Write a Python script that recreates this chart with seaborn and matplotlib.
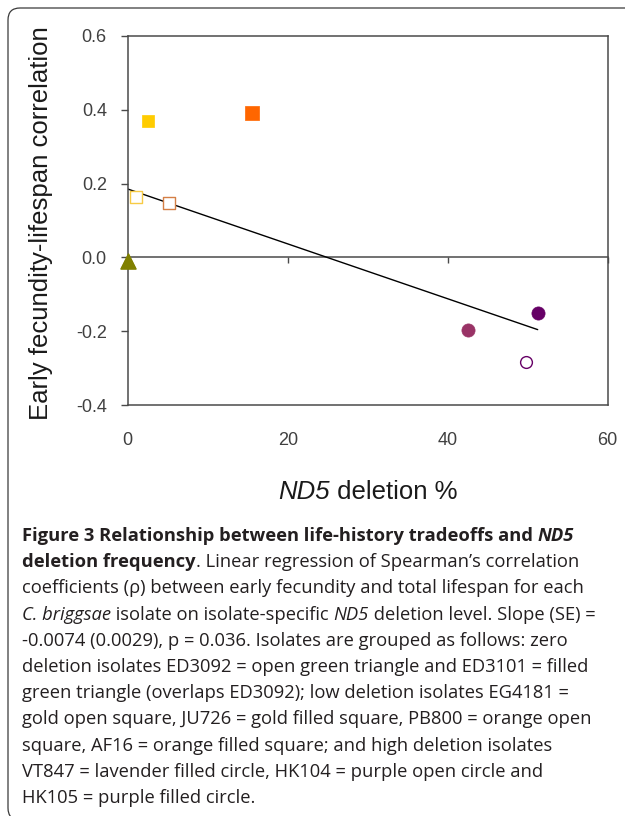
import matplotlib
matplotlib.use("Agg")
import matplotlib.pyplot as plt
import seaborn as sns
import numpy as np
import pandas as pd
from matplotlib.patches import FancyBboxPatch
from matplotlib.transforms import IdentityTransform

# ---------------- data ----------------
isolates = ["ED3092", "ED3101", "EG4181", "JU726", "PB800", "AF16", "VT847", "HK104", "HK105"]
deletion_pct = [0.0, 0.0, 1.0, 2.5, 5.2, 15.5, 42.5, 49.8, 51.25]
spearman_rho = [-0.01, -0.01, 0.165, 0.37, 0.148, 0.39, -0.197, -0.283, -0.152]
x_ticks = [0, 20, 40, 60]
x_tick_labels = ["0", "20", "40", "60"]
y_ticks = [-0.4, -0.2, 0.0, 0.2, 0.4, 0.6]
y_tick_labels = ["-0.4", "-0.2", "0.0", "0.2", "0.4", "0.6"]
x_label_runs = [("ND5", "italic"), (" deletion %", "normal")]
y_label = "Early fecundity-lifespan correlation"

# ---------------- styles ----------------
marker_shapes = ["^", "^", "s", "s", "s", "s", "o", "o", "o"]
marker_colors = ["#808000", "#808000", "#F7CB45", "#FFCC00", "#D47F45", "#FF6600",
                 "#993366", "#660066", "#660066"]
marker_filled = [False, True, False, True, False, True, True, False, True]
marker_sizes = [117, 117, 80, 83, 78, 88, 90, 72, 90]

sns.set_style("white")
plt.rcParams["font.family"] = ["Liberation Sans", "DejaVu Sans"]

fig = plt.figure(figsize=(6.25, 8.16), dpi=100)
fig.patch.set_facecolor("white")
ax = fig.add_axes([127.7 / 625, 1 - 405 / 816, 480 / 625, 369 / 816])
renderer = fig.canvas.get_renderer()

df = pd.DataFrame({"isolate": isolates, "deletion": deletion_pct, "rho": spearman_rho})

# regression line
sns.regplot(data=df, x="deletion", y="rho", scatter=False, ci=None, truncate=True,
            color="black", line_kws=dict(lw=1.0, zorder=2), ax=ax)

# points
for i, row in df.iterrows():
    col = marker_colors[i]
    if marker_filled[i]:
        sns.scatterplot(x=[row["deletion"]], y=[row["rho"]], ax=ax, marker=marker_shapes[i],
                        s=marker_sizes[i], color=col, edgecolor=col, linewidth=0.5,
                        zorder=4, legend=False, clip_on=False)
    else:
        sns.scatterplot(x=[row["deletion"]], y=[row["rho"]], ax=ax, marker=marker_shapes[i],
                        s=marker_sizes[i], color="white", edgecolor=col, linewidth=1.0,
                        zorder=3, legend=False, clip_on=False)

ax.set_xlim(x_ticks[0], x_ticks[-1])
ax.set_ylim(y_ticks[0], y_ticks[-1])
ax.set_xlabel("")

spine_col = "#4a4a4a"
for sp in ax.spines.values():
    sp.set_visible(True)
    sp.set_color(spine_col)
    sp.set_linewidth(1.1)

ax.set_yticks(y_ticks, labels=y_tick_labels)
ax.set_xticks(x_ticks, labels=x_tick_labels)
ax.tick_params(axis="y", left=True, direction="out", length=5, width=1.0, color=spine_col,
               pad=10, labelsize=13, labelcolor="#404040")
ax.tick_params(axis="x", bottom=True, length=0, pad=19.5, labelsize=13, labelcolor="#404040")
ax.grid(False)

# zero line axis with ticks
ylo, yhi = ax.get_ylim()
sec = ax.secondary_xaxis((0 - ylo) / (yhi - ylo))
sec.set_xticks(x_ticks, labels=["" for _ in x_ticks])
sec.tick_params(axis="x", bottom=True, direction="out", length=4, width=1.0, color=spine_col)
sec.spines["bottom"].set_color(spine_col)
sec.spines["bottom"].set_linewidth(1.1)

ax.set_ylabel(y_label, fontsize=18.5, color="#1a1a1a", va="center")
ax.yaxis.set_label_coords((41 - 127.7) / 480, (405 - 223) / 369)


def measure(s, size, family, **kw):
    t1 = fig.text(0, 0, "|" + s + "|", family=family, fontsize=size, **kw)
    t2 = fig.text(0, 0, "||", family=family, fontsize=size, **kw)
    w = t1.get_window_extent(renderer).width - t2.get_window_extent(renderer).width
    t1.remove()
    t2.remove()
    return w


# x label drawn as runs (italic ND5)
xl_family = ["Liberation Sans", "DejaVu Sans"]
xl_size = 18.5
widths = [measure(s, xl_size, xl_family, fontstyle=st) for s, st in x_label_runs]
xc = 127.7 + 240
x = xc - sum(widths) / 2
for (s, st), w in zip(x_label_runs, widths):
    fig.text(x / 625, 1 - 499 / 816, s, family=xl_family, fontsize=xl_size, fontstyle=st,
             color="#1a1a1a", va="baseline", ha="left")
    x += w

# frame
frame = FancyBboxPatch((8, -4), 720, 812, boxstyle="round,pad=0,rounding_size=12",
                       transform=IdentityTransform(), fill=False, ec="#3a3a3a", lw=0.9)
fig.add_artist(frame)

# ---------------- caption ----------------
caption_lines = [
    [("Figure 3 Relationship between life-history tradeoffs and ", "b"), ("ND5", "bi")],
    [("deletion frequency", "b"), (". Linear regression of Spearman\u2019s correlation", "r")],
    [("coefficients (\u03c1) between early fecundity and total lifespan for each", "r")],
    [("C. briggsae", "i"), (" isolate on isolate-specific ", "r"), ("ND5", "i"),
     (" deletion level. Slope (SE) =", "r")],
    [("-0.0074 (0.0029), p = 0.036. Isolates are grouped as follows: zero", "r")],
    [("deletion isolates ED3092 = open green triangle and ED3101 = filled", "r")],
    [("green triangle (overlaps ED3092); low deletion isolates EG4181 =", "r")],
    [("gold open square, JU726 = gold filled square, PB800 = orange open", "r")],
    [("square, AF16 = orange filled square; and high deletion isolates", "r")],
    [("VT847 = lavender filled circle, HK104 = purple open circle and", "r")],
    [("HK105 = purple filled circle.", "r")],
]

cap_family = ["Open Sans", "DejaVu Sans"]
cap_color = "#231f20"


def style_kw(st):
    return dict(fontweight="bold" if "b" in st else "normal",
                fontstyle="italic" if "i" in st else "normal")


w10 = measure(caption_lines[2][0][0], 10, cap_family, **style_kw("r"))
cap_size = 10 * 562 / w10

x0 = 22
baseline0 = 541
line_step = 26.2
for li, line in enumerate(caption_lines):
    x = x0
    yb = baseline0 + li * line_step
    for s, st in line:
        fig.text(x / 625, 1 - yb / 816, s, family=cap_family, fontsize=cap_size,
                 color=cap_color, va="baseline", ha="left", **style_kw(st))
        x += measure(s, cap_size, cap_family, **style_kw(st))

fig.savefig("out.png", dpi=100, facecolor="white")
